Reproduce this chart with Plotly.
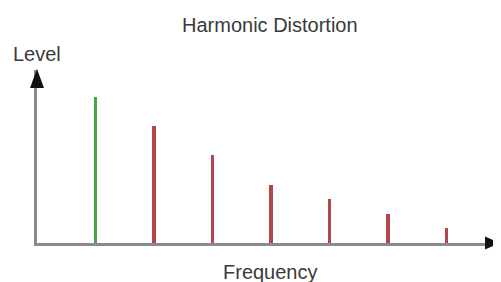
import plotly.graph_objects as go

# Data
harmonics = [1, 2, 3, 4, 5, 6, 7]
levels = [10, 8, 6, 4, 3, 2, 1]
bar_colors = ["#46a546", "#b3474b", "#b3474b", "#b3474b", "#b3474b", "#b3474b", "#b3474b"]

title_text = "Harmonic Distortion"
x_label = "Frequency"
y_label = "Level"

OFF = 8  # default page body margin
W, H = 501 - OFF, 282 - OFF
L, R, T, B = 37 - OFF, 1, 70 - OFF, 39
pw, ph = W - L - R, H - T - B
X_MAX = pw / 58.5
Y_MAX = ph / 14.6


def px(xpix):
    return (xpix - OFF - L) / pw


def py(ypix):
    return (H - B - (ypix - OFF)) / ph


fig = go.Figure()
fig.add_trace(go.Bar(
    x=harmonics, y=levels, width=0.055,
    marker=dict(color=bar_colors, line=dict(width=0)),
    hoverinfo="skip",
))

axis_col = "#8a8a8a"
fig.update_xaxes(range=[0, X_MAX], showgrid=False, zeroline=False, showticklabels=False,
                 ticks="", showline=True, linecolor=axis_col, linewidth=2.5, fixedrange=True)
fig.update_yaxes(range=[0, Y_MAX], showgrid=False, zeroline=False, showticklabels=False,
                 ticks="", showline=True, linecolor=axis_col, linewidth=2.5, fixedrange=True)

# Arrow heads (paper coords)
up_path = "M {x0},{y0} L {x1},{y1} L {x2},{y1} Z".format(
    x0=px(37), y0=py(69), x1=px(30), x2=px(44), y1=py(88))
right_path = "M {x0},{y0} L {x1},{y1} L {x1},{y2} Z".format(
    x0=px(500), y0=py(243), x1=px(485), y1=py(236.5), y2=py(249.5))
shapes = [
    dict(type="path", xref="paper", yref="paper", path=up_path,
         fillcolor="#111111", line=dict(width=0), layer="above"),
    dict(type="path", xref="paper", yref="paper", path=right_path,
         fillcolor="#111111", line=dict(width=0), layer="above"),
]

font = dict(family="Liberation Sans, Arial, sans-serif", size=20, color="#3a3a3a")
annotations = [
    dict(text=title_text, x=px(270), y=py(25), xref="paper", yref="paper",
         showarrow=False, xanchor="center", yanchor="middle", font=font),
    dict(text=y_label, x=px(37), y=py(54), xref="paper", yref="paper",
         showarrow=False, xanchor="center", yanchor="middle", font=font),
    dict(text=x_label, x=px(270), y=py(272), xref="paper", yref="paper",
         showarrow=False, xanchor="center", yanchor="middle", font=font),
]

fig.update_layout(
    width=W, height=H,
    margin=dict(l=L, r=R, t=T, b=B, pad=0),
    paper_bgcolor="white", plot_bgcolor="white",
    showlegend=False,
    shapes=shapes, annotations=annotations,
    bargap=0,
)

fig.write_html("out.html", config={"displayModeBar": False})
